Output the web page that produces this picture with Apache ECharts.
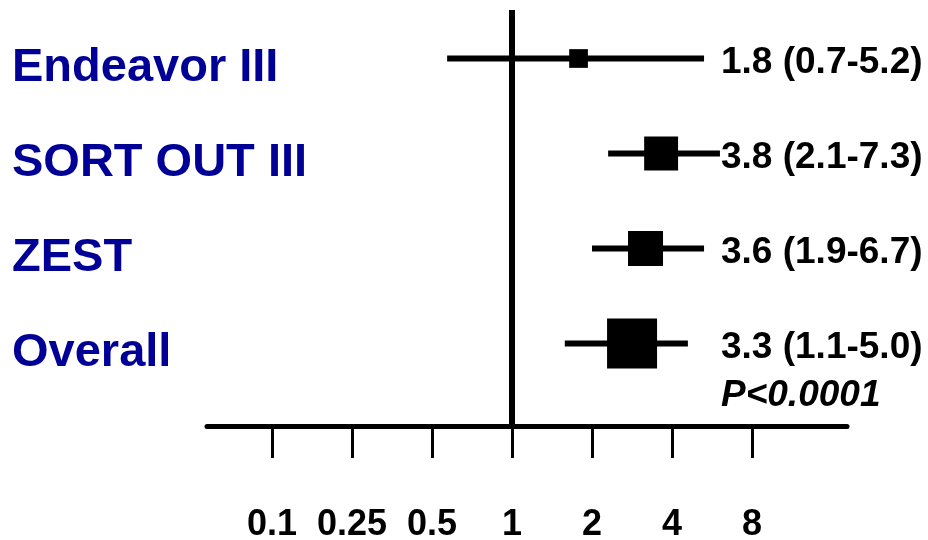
<!DOCTYPE html>
<html><head><meta charset="utf-8">
<script src="https://cdn.jsdelivr.net/npm/echarts@6/dist/echarts.min.js"></script>
<style>html,body{margin:0;padding:0;background:#fff}#c{width:928px;height:540px}</style>
</head><body><div id="c"></div>
<script>
// ---- data (odds ratios) ----
const studies = ['Endeavor III', 'SORT OUT III', 'ZEST', 'Overall'];
const estimates = [1.78, 3.64, 3.18, 2.83];
const lowerCI = [0.57, 2.30, 2.00, 1.58];
const upperCI = [5.28, 6.06, 5.28, 4.59];
const weights = [14, 46, 49, 100];
const resultLabels = ['1.8 (0.7-5.2)', '3.8 (2.1-7.3)', '3.6 (1.9-6.7)', '3.3 (1.1-5.0)'];
const pValueText = 'P<0.0001';
const nullEffect = 1;
const tickValues = [0.125, 0.25, 0.5, 1, 2, 4, 8];
const tickLabels = ['0.1', '0.25', '0.5', '1', '2', '4', '8'];

// ---- chart ----
const FONT = '"Liberation Sans", Arial, sans-serif';
const L = Math.log2;
const xMin = -3.8125, xMax = 4.1875;
const tickPos = tickValues.map(L);

const chart = echarts.init(document.getElementById('c'), null, {renderer: 'canvas'});
chart.setOption({
  animation: false,
  backgroundColor: '#fff',
  grid: [
    {left: 207, right: 81, top: 10, bottom: 114, outerBoundsMode: 'none', containLabel: false},
    {left: 207, right: 81, top: 11, height: 380, outerBoundsMode: 'none', containLabel: false}
  ],
  xAxis: [
    {
      type: 'value', gridIndex: 0, min: xMin, max: xMax,
      splitLine: {show: false},
      axisLine: {onZero: false, lineStyle: {color: '#000', width: 5}},
      axisTick: {customValues: tickPos, length: 32, lineStyle: {color: '#000', width: 3}},
      axisLabel: {
        customValues: tickPos, margin: 81,
        fontSize: 36, fontWeight: 'bold', color: '#000', fontFamily: FONT,
        formatter: function (v) {
          for (let i = 0; i < tickPos.length; i++) if (Math.abs(tickPos[i] - v) < 1e-9) return tickLabels[i];
          return '';
        }
      }
    },
    {type: 'value', gridIndex: 1, min: xMin, max: xMax, show: false}
  ],
  yAxis: [
    {type: 'value', gridIndex: 0, min: 0, max: 1, show: false},
    {
      type: 'category', gridIndex: 1, inverse: true, data: studies,
      axisLine: {show: false}, axisTick: {show: false}, splitLine: {show: false},
      axisLabel: {
        align: 'left', verticalAlign: 'top', lineHeight: 20, margin: 195,
        fontSize: 47, fontWeight: 'bold', color: '#000096', fontFamily: FONT
      }
    },
    {
      type: 'category', gridIndex: 1, position: 'right', inverse: true, data: resultLabels,
      axisLine: {show: false}, axisTick: {show: false}, splitLine: {show: false},
      axisLabel: {
        align: 'left', verticalAlign: 'top', lineHeight: 9, margin: -126,
        fontSize: 37, fontWeight: 'bold', color: '#000', fontFamily: FONT
      }
    }
  ],
  series: [
    {
      type: 'line', xAxisIndex: 0, yAxisIndex: 0, symbol: 'none', silent: true,
      data: [[L(nullEffect), 0], [L(nullEffect), 1]],
      lineStyle: {color: '#000', width: 6}, z: 3
    },
    {
      type: 'custom', xAxisIndex: 1, yAxisIndex: 1,
      encode: {x: [0, 1], y: 2},
      data: studies.map((s, i) => [L(lowerCI[i]), L(upperCI[i]), i]),
      renderItem: function (params, api) {
        const p1 = api.coord([api.value(0), api.value(2)]);
        const p2 = api.coord([api.value(1), api.value(2)]);
        return {
          type: 'line',
          shape: {x1: p1[0], y1: p1[1], x2: p2[0], y2: p2[1]},
          style: {stroke: '#000', lineWidth: 6}
        };
      },
      z: 4
    },
    {
      type: 'scatter', xAxisIndex: 1, yAxisIndex: 1,
      symbol: 'rect',
      symbolSize: function (v) { return 50 * Math.sqrt(v[2] / 100); },
      data: studies.map((s, i) => [L(estimates[i]), i, weights[i]]),
      itemStyle: {color: '#000', opacity: 1},
      z: 5
    }
  ],
  graphic: [
    {
      type: 'text', left: 721, top: 377,
      style: {text: pValueText, fill: '#000', font: 'italic bold 37px ' + FONT}
    }
  ]
});
</script>
</body></html>
